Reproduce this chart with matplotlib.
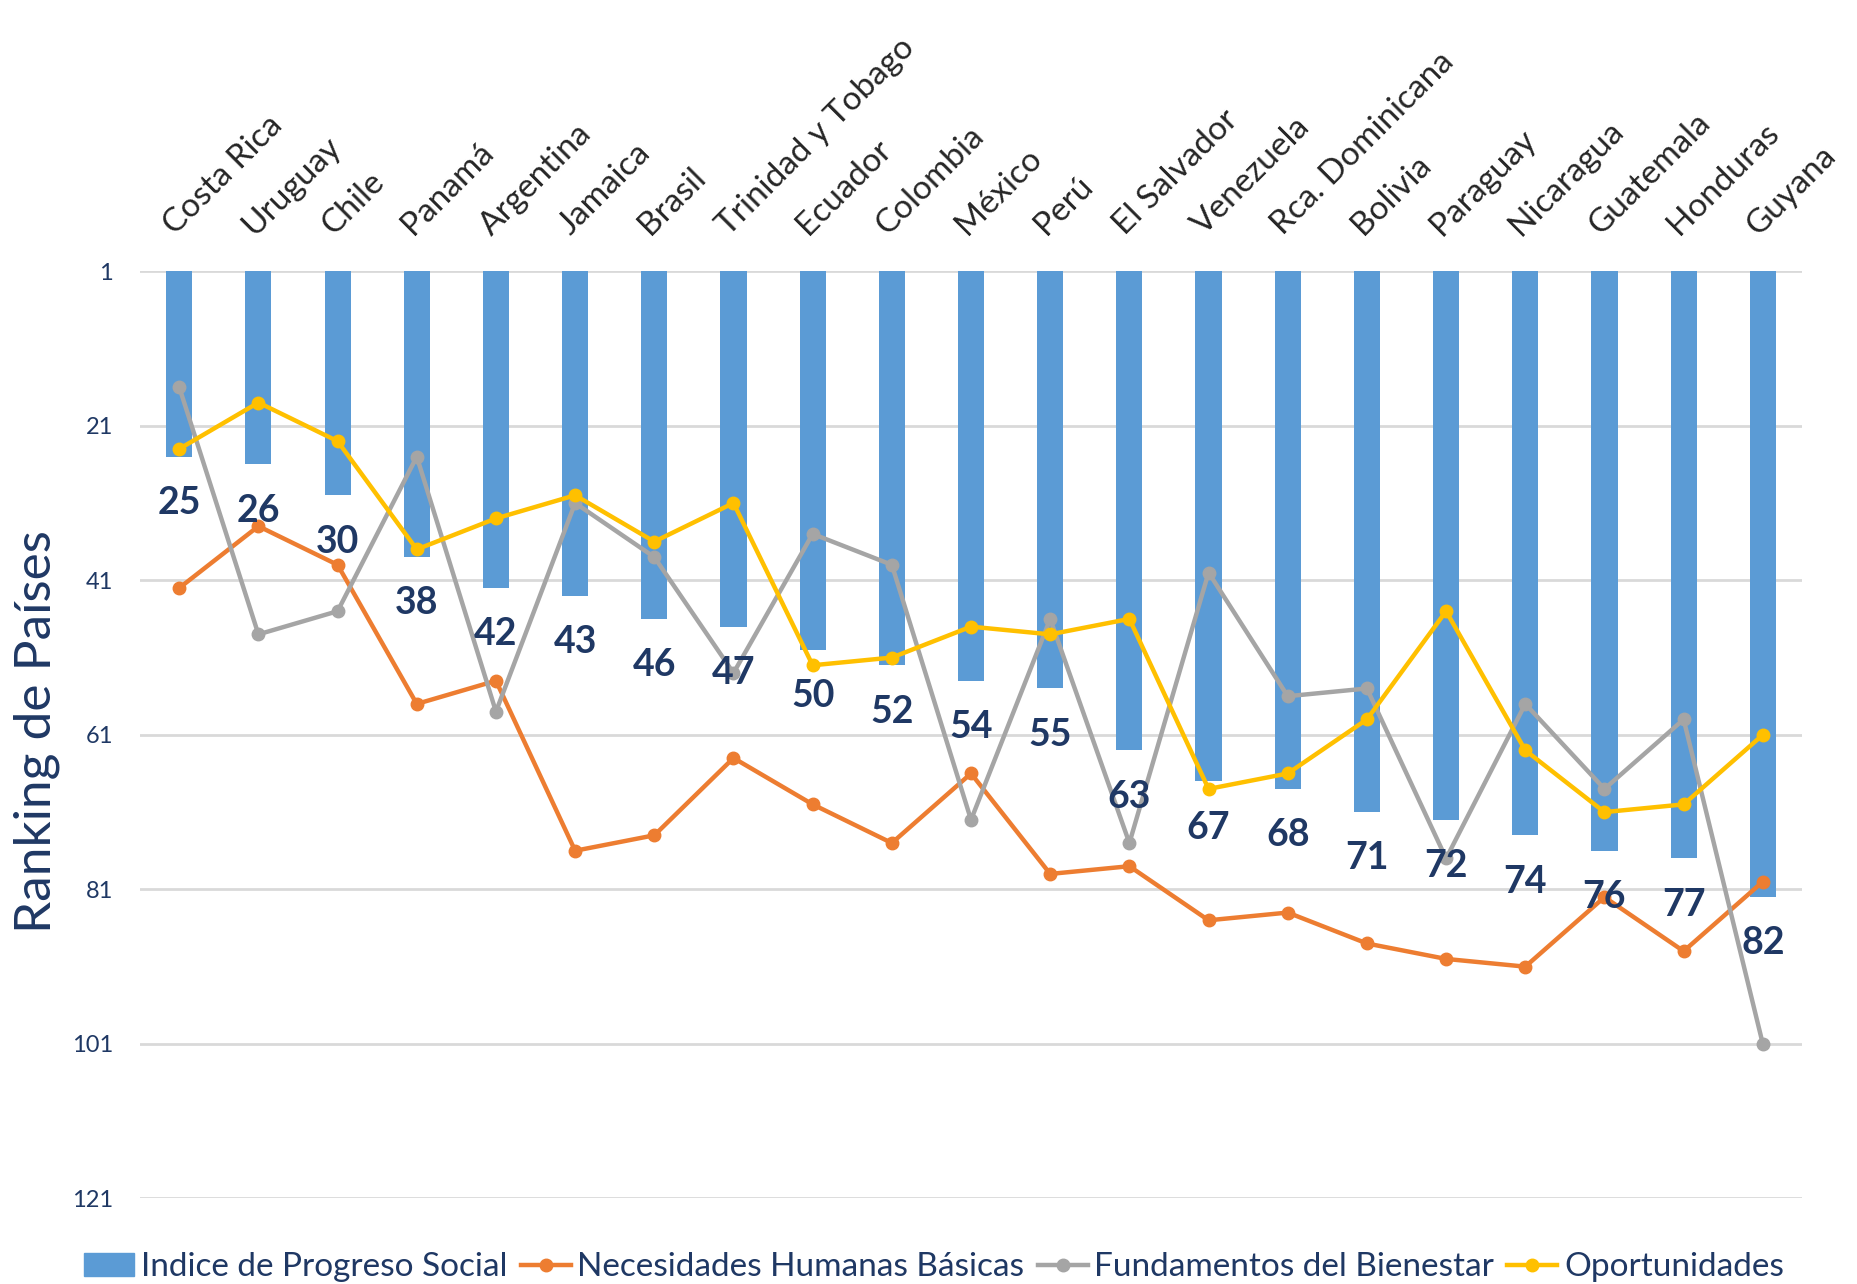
import numpy as np
import matplotlib
matplotlib.use("Agg")
import matplotlib.pyplot as plt
from matplotlib.patches import Patch
from matplotlib.lines import Line2D

paises = ['Costa Rica', 'Uruguay', 'Chile', 'Panamá', 'Argentina', 'Jamaica', 'Brasil',
          'Trinidad y Tobago', 'Ecuador', 'Colombia', 'México', 'Perú', 'El Salvador',
          'Venezuela', 'Rca. Dominicana', 'Bolivia', 'Paraguay', 'Nicaragua', 'Guatemala',
          'Honduras', 'Guyana']

# ranking en cada indicador
ips = [25, 26, 30, 38, 42, 43, 46, 47, 50, 52, 54, 55, 63, 67, 68, 71, 72, 74, 76, 77, 82]
necesidades = [42, 34, 39, 57, 54, 76, 74, 64, 70, 75, 66, 79, 78, 85, 84, 88, 90, 91, 82, 89, 80]
fundamentos = [16, 48, 45, 25, 58, 31, 38, 53, 35, 39, 72, 46, 75, 40, 56, 55, 77, 57, 68, 59, 101]
oportunidades = [24, 18, 23, 37, 33, 30, 36, 31, 52, 51, 47, 48, 46, 68, 66, 59, 45, 63, 71, 70, 61]

navy = '#1F3864'
azul = '#5B9BD5'
naranja = '#ED7D31'
gris = '#A5A5A5'
amarillo = '#FFC000'

plt.rcParams['font.family'] = ['Lato', 'DejaVu Sans']

fig = plt.figure(figsize=(18.57, 12.84), dpi=100)
ax = fig.add_axes([0.0752, 0.0666, 0.8954, 0.7222])

x = np.arange(len(paises))

base = 1
ax.bar(x, np.array(ips) - base, bottom=base, width=0.33, color=azul, zorder=2)
ax.plot(x, necesidades, color=naranja, lw=3.2, marker='o', ms=9, zorder=3)
ax.plot(x, fundamentos, color=gris, lw=3.2, marker='o', ms=9, zorder=3)
ax.plot(x, oportunidades, color=amarillo, lw=3.2, marker='o', ms=9, zorder=3)

for i, v in enumerate(ips):
    ax.text(i, v + 6, str(v), ha='center', va='center', fontsize=27,
            fontweight='bold', color=navy, zorder=5)

ax.set_ylim(121, 1)
ax.set_xlim(-0.5, len(paises) - 0.5)
ax.set_yticks([1, 21, 41, 61, 81, 101, 121])
ax.tick_params(axis='y', length=0, labelsize=17, labelcolor=navy, pad=19)
ax.grid(axis='y', color='#D9D9D9', lw=2, zorder=0)
for s in ax.spines.values():
    s.set_visible(False)

ax.xaxis.tick_top()
ax.set_xticks(x)
ax.set_xticklabels(paises, rotation=45, ha='left', rotation_mode='anchor',
                   fontsize=24, color='#262626')
ax.tick_params(axis='x', length=0, pad=22)

fig.text(0.02, 0.43, 'Ranking de Países', rotation=90, ha='center', va='center',
         fontsize=37, color=navy)

handles = [
    Patch(color=azul),
    Line2D([], [], color=naranja, lw=3.2, marker='o', ms=9),
    Line2D([], [], color=gris, lw=3.2, marker='o', ms=9),
    Line2D([], [], color=amarillo, lw=3.2, marker='o', ms=9),
]
etiquetas = ['Indice de Progreso Social', 'Necesidades Humanas Básicas',
             'Fundamentos del Bienestar', 'Oportunidades']
fig.legend(handles, etiquetas, loc='lower center', bbox_to_anchor=(0.503, -0.022), ncol=4,
           frameon=False, fontsize=24, labelcolor=navy, handlelength=1.5,
           handletextpad=0.2, columnspacing=0.4)

fig.savefig('out.png', dpi=100)
